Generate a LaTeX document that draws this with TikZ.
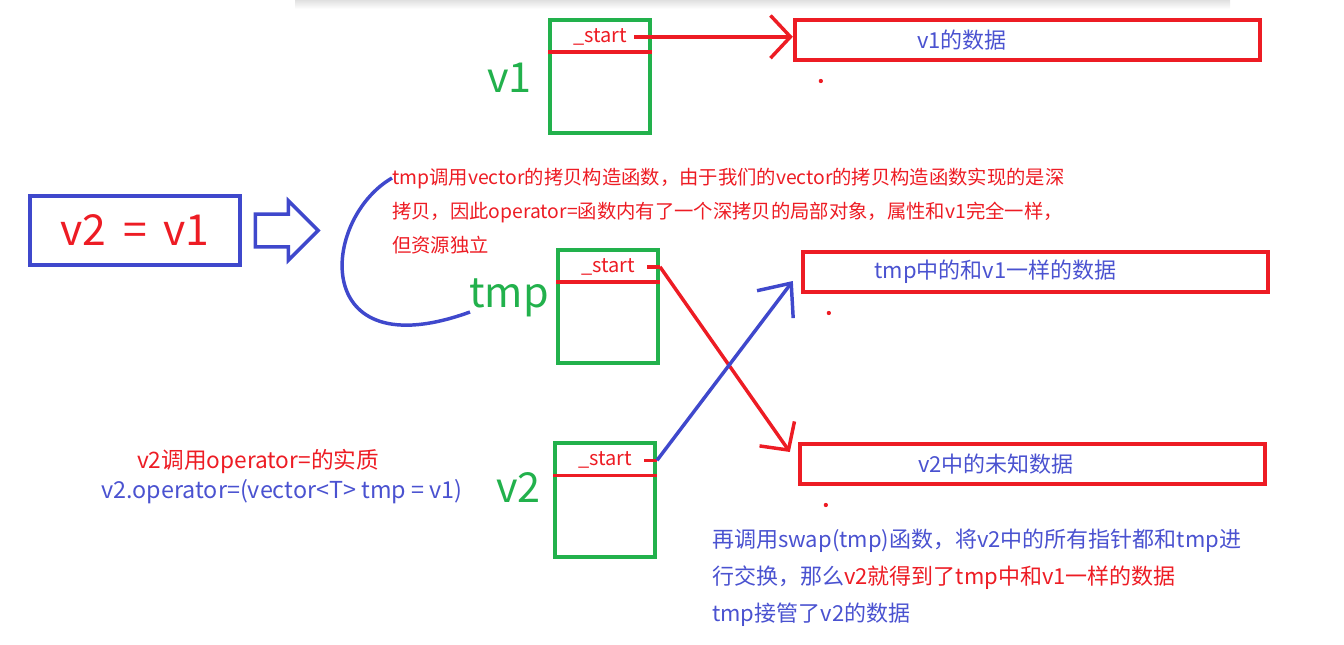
\documentclass[tikz,border=0pt]{standalone}
\usepackage{fontspec}
\setmainfont{Noto Sans CJK SC}
\usepackage{xcolor}
\usetikzlibrary{arrows.meta,calc,positioning,shapes.arrows}
\definecolor{pred}{HTML}{ED1C24}
\definecolor{pgreen}{HTML}{22B14C}
\definecolor{pblue}{HTML}{3F48CC}
\definecolor{tblue}{HTML}{4A52D0}
\tikzset{
    vecbox/.style={
        rectangle,
        draw=pgreen, line width=3pt,
        minimum width=75pt,
        minimum height=85pt,
        inner sep=0pt
    },
    divider/.style={draw=pred, line width=2.6pt},
    startlbl/.style={text=pred, inner sep=0pt, font={\fontsize{15pt}{17}\selectfont}},
    vecname/.style={text=pgreen, inner sep=0pt, font={\fontsize{31pt}{34}\selectfont}},
    databox/.style={
        rectangle,
        draw=pred, line width=3pt,
        minimum width=349pt,
        minimum height=30pt,
        inner sep=0pt
    },
    datatext/.style={text=tblue, inner sep=0pt, font={\fontsize{16.5pt}{19}\selectfont}},
    wire/.style={draw=pred, line width=2.6pt},
    ptr/.style={wire, -{Straight Barb[length=15pt,width=32pt]}},
    bptr/.style={draw=pblue, line width=2.6pt, -{Straight Barb[length=20pt,width=34pt]}},
    note/.style={align=left, inner sep=0pt, font={\fontsize{14.5pt}{25.5}\selectfont}},
    font={\fontsize{14.5pt}{17}\selectfont},
}

\begin{document}
\begin{tikzpicture}[x=0.75pt, y=-0.75pt]
\useasboundingbox (0,0) rectangle (1344,645);
\shade [top color=black!12, bottom color=white] (295,0) rectangle (1230,9);

% the three vector objects
\foreach \v/\x/\y in {v1/600/76.5, tmp/608/306.5, v2/605/500}{
  \node [vecbox] (\v-box) at (\x,\y) {};
  \draw [divider] ($(\v-box.north west)+(0,34)$) -- ($(\v-box.north east)+(0,34)$);
  \node [startlbl] (\v-start) at ($(\v-box.north)+(0,19)$) {\_start};
  \coordinate (\v-ptr) at (\v-box.east |- \v-start);
}

\node [vecname, anchor=east] (v1-name) at (532,78) {v1};
\node [vecname, anchor=east] (tmp-name) at (549,298) {tmp};
\node [vecname, anchor=east] (v2-name) at (541,487) {v2};

% heap data
\foreach \d/\x/\y/\off/\txt in {v1/1027.5/40/93pt/v1的数据,
    tmp/1035.5/272/55pt/tmp中的和v1一样的数据,
    v2/1032.5/464/90pt/v2中的未知数据}{
  \node [databox] (\d-data) at (\x,\y) {};
  \node [datatext, right=\off of \d-data.west] (\d-text) {\txt};
  \fill [pred] ($(\d-data.south west)+(28,19)$) circle (1.6pt);
}

% the assignment
\node [draw=pblue, line width=3pt, minimum width=157pt, minimum height=52pt,
  text=pred, font={\fontsize{32pt}{34}\selectfont}] (assign) at (135,230.5) {v2\,\ =\ \,v1};
\node [single arrow, draw=pblue, line width=2.6pt, minimum height=47pt,
  minimum width=42pt, inner sep=11pt, single arrow head extend=10pt,
  right=9pt of assign] (implies) {};

\node [note, text=pred, anchor=north west] (copynote) at (392,168)
  {tmp调用vector的拷贝构造函数，由于我们的vector的拷贝构造函数实现的是深\\
   拷贝，因此operator=函数内有了一个深拷贝的局部对象，属性和v1完全一样，\\
   但资源独立};
\coordinate (bend-top) at (392,178);
\coordinate (bend-end) at (470,312);
\draw [pblue, line width=2.6pt] (bend-top) .. controls (320,220) and (310,370) .. (bend-end);

\node [text=pred, font={\fontsize{17pt}{19}\selectfont}] (calltitle) at (258,461) {v2调用operator=的实质};
\node [text=tblue, font={\fontsize{17.5pt}{19}\selectfont}] (callexpr) at (282,492) {v2.operator=(vector<T> tmp = v1)};

\node [note, text=tblue, anchor=north west, font={\fontsize{16.5pt}{27.5}\selectfont}] (swapnote) at (712,529)
  {再调用swap(tmp)函数，将v2中的所有指针都和tmp进\\
   行交换，那么\textcolor{pred}{v2就得到了tmp中和v1一样的数据}\\
   tmp接管了v2的数据};

% pointers
\draw [ptr] ($(v1-start.east)+(7,0)$) -- (v1-data.west |- v1-start);
\draw [wire] ($(tmp-start.east)+(12,0)$) -- (tmp-ptr);
\draw [ptr] (tmp-ptr) -- ($(v2-data.north west)+(-8,10)$);
\draw [wire] ($(v2-start.east)+(12,0)$) -- (v2-ptr);
\draw [bptr] (v2-ptr) -- ($(tmp-data.west)+(-8,9)$);

\end{tikzpicture}
\end{document}
